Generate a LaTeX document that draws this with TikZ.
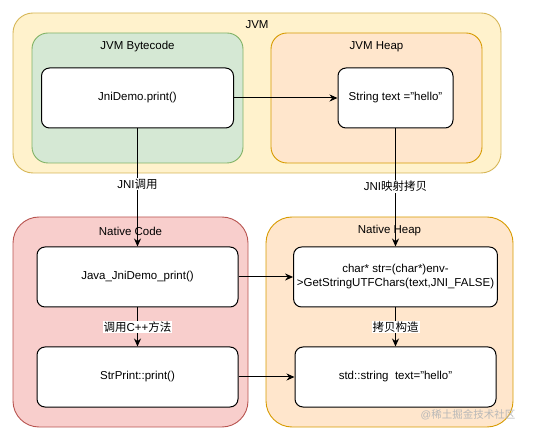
\documentclass[tikz,border=0pt]{standalone}
\usepackage{fontspec}
\setmainfont{Liberation Sans}
\newfontfamily\cjk{Noto Sans CJK SC}
\usetikzlibrary{arrows.meta}

\definecolor{jvmfill}{HTML}{FFF2CC}
\definecolor{jvmline}{HTML}{D6B656}
\definecolor{bytefill}{HTML}{D5E8D4}
\definecolor{byteline}{HTML}{82B366}
\definecolor{heapfill}{HTML}{FFE6CC}
\definecolor{heapline}{HTML}{D79B00}
\definecolor{codefill}{HTML}{F8CECC}
\definecolor{codeline}{HTML}{B85450}

\tikzset{
  group/.style={draw, line width=0.9pt, rounded corners=20pt, inner sep=0pt},
  grouptitle/.style={font=\fontsize{11.5}{14}\selectfont, inner sep=1pt},
  box/.style={draw=black, fill=white, line width=1pt, rounded corners=8pt,
    minimum height=60pt, align=center, font=\fontsize{11.5}{14}\selectfont},
  link/.style={line width=1pt, -{Stealth[length=8pt,width=7pt]}},
  linklabel/.style={fill=white, inner sep=1pt, font=\fontsize{11.5}{14}\selectfont}
}

\begin{document}
\begin{tikzpicture}[x=1pt,y=-1pt]
			%%%%% START %%%%%
			\useasboundingbox (0,0) rectangle (546,435);

			% JVM
			\node[group, fill=jvmfill, draw=jvmline, minimum width=488pt, minimum height=160pt] (jvm) at (257,93) {};
			\node[grouptitle] (jvmtitle) at (257,25) {JVM};

			\node[group, fill=bytefill, draw=byteline, minimum width=211pt, minimum height=130pt, rounded corners=16pt] (bytecode) at (137.5,98) {};
			\node[grouptitle] (bytecodetitle) at (137.5,47) {JVM Bytecode};
			\node[group, fill=heapfill, draw=heapline, minimum width=211pt, minimum height=130pt, rounded corners=16pt] (jvmheap) at (376.5,98) {};
			\node[grouptitle] (jvmheaptitle) at (376.5,47) {JVM Heap};

			\node[box, minimum width=192pt] (jnidemo) at (137.5,98) {JniDemo.print()};
			\node[box, minimum width=115pt] (jstring) at (395.5,98) {String text ="hello"};

			% Native
			\node[group, fill=codefill, draw=codeline, minimum width=235pt, minimum height=210pt, rounded corners=26pt] (nativecode) at (130.5,322) {};
			\node[grouptitle] (nativecodetitle) at (130.5,231) {Native Code};
			\node[group, fill=heapfill, draw=heapline, minimum width=247pt, minimum height=210pt, rounded corners=26pt] (nativeheap) at (389.5,322) {};
			\node[grouptitle] (nativeheaptitle) at (389.5,231) {Native Heap};

			\node[box, minimum width=201pt] (javaprint) at (137.5,277) {Java\_JniDemo\_print()};
			\node[box, minimum width=201pt] (charstr) at (395.5,277) {char* str=(char*)env-\\>GetStringUTFChars(text,JNI\_FALSE)};
			\node[box, minimum width=201pt] (strprint) at (137.5,377) {StrPrint::print()};
			\node[box, minimum width=201pt] (stdstring) at (395.5,377) {std::string\ \ text="hello"};

			% links
			\draw[link] (jnidemo.east) -- (jstring.west);
			\draw[link] (jnidemo.south) -- node[linklabel, pos=0.47] (jnicall) {JNI{\cjk 调用}} (javaprint.north);
			\draw[link] (jstring.south) -- node[linklabel, pos=0.49] (jnicopy) {JNI{\cjk 映射拷贝}} (charstr.north);
			\draw[link] (javaprint.east) -- (charstr.west);
			\draw[link] (javaprint.south) -- node[linklabel] (cppcall) {{\cjk 调用}C++{\cjk 方法}} (strprint.north);
			\draw[link] (charstr.south) -- node[linklabel] (copyctor) {\cjk 拷贝构造} (stdstring.north);
			\draw[link] (strprint.east) -- (stdstring.west);

			\node[text=black!28, font=\fontsize{10.5}{12}\selectfont] (mark) at (468,415) {@{\cjk 稀土掘金技术社区}};
			%%%%% END %%%%%
		\end{tikzpicture}
\end{document}
